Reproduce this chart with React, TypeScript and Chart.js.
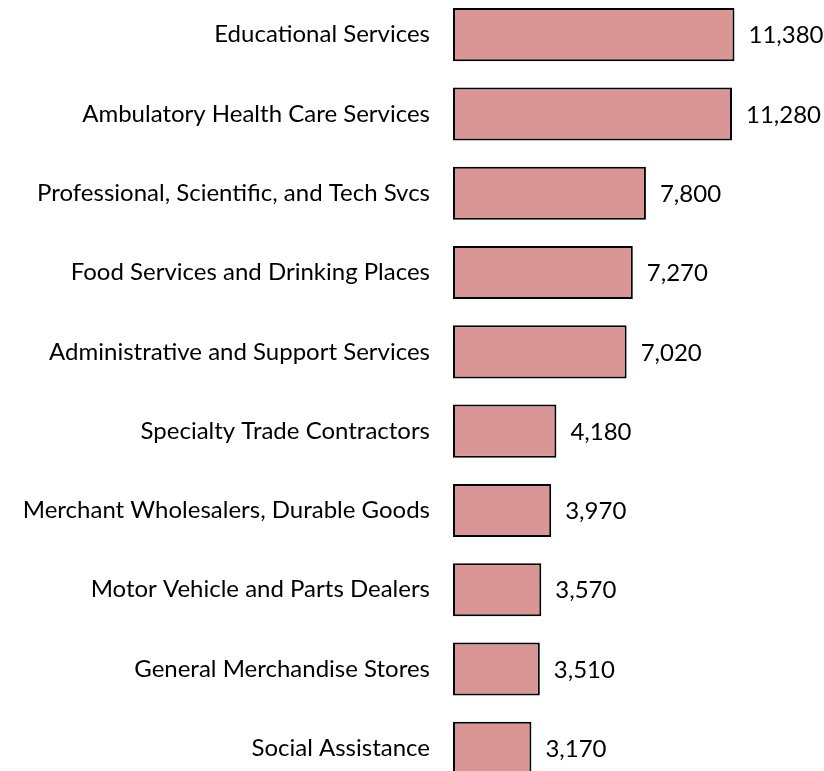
import React, { useEffect, useRef } from "react";
import { Chart, registerables } from "chart.js";

Chart.register(...registerables);

const categories: string[] = [
  "Educational Services",
  "Ambulatory Health Care Services",
  "Professional, Scientific, and Tech Svcs",
  "Food Services and Drinking Places",
  "Administrative and Support Services",
  "Specialty Trade Contractors",
  "Merchant Wholesalers, Durable Goods",
  "Motor Vehicle and Parts Dealers",
  "General Merchandise Stores",
  "Social Assistance",
];

const values: number[] = [11380, 11280, 7800, 7270, 7020, 4180, 3970, 3570, 3510, 3170];

const FONT_FAMILY = "Lato, 'Open Sans', sans-serif";
const FONT_SIZE = 24;

const valueLabels = {
  id: "valueLabels",
  afterDatasetsDraw(chart: any) {
    const ctx = chart.ctx;
    const meta = chart.getDatasetMeta(0);
    ctx.save();
    ctx.font = `${FONT_SIZE}px ${FONT_FAMILY}`;
    ctx.fillStyle = "#000000";
    ctx.textAlign = "left";
    ctx.textBaseline = "middle";
    meta.data.forEach((bar: any, i: number) => {
      const v = chart.data.datasets[0].data[i] as number;
      ctx.fillText(v.toLocaleString("en-US"), bar.x + 14, bar.y + 1);
    });
    ctx.restore();
  },
};

export default function App() {
  const ref = useRef<HTMLCanvasElement | null>(null);

  useEffect(() => {
    document.body.style.margin = "0";
    document.body.style.overflow = "hidden";
    const canvas = ref.current;
    if (!canvas) return;
    const chart = new Chart(canvas, {
      type: "bar",
      data: {
        labels: categories,
        datasets: [
          {
            data: values,
            backgroundColor: "#D99694",
            borderColor: "#000000",
            borderWidth: 2,
            borderSkipped: false,
            barPercentage: 0.67,
            categoryPercentage: 1,
          },
        ],
      },
      options: {
        indexAxis: "y",
        responsive: false,
        animation: false,
        maintainAspectRatio: false,
        layout: { padding: 0 },
        plugins: {
          legend: { display: false },
          tooltip: { enabled: false },
        },
        scales: {
          x: {
            display: false,
            min: 0,
            max: 15000,
          },
          y: {
            afterFit(scale: any) {
              scale.width = 453;
              scale.paddingTop = 0;
              scale.paddingBottom = 0;
              scale.paddingLeft = 0;
              scale.paddingRight = 0;
            },
            grid: {
              display: true,
              drawOnChartArea: false,
              drawTicks: true,
              tickLength: 23,
              color: "rgba(0,0,0,0)",
            },
            border: { display: false },
            ticks: {
              padding: 0,
              color: "#000000",
              font: { family: FONT_FAMILY, size: FONT_SIZE },
            },
          },
        },
      },
      plugins: [valueLabels],
    });
    return () => chart.destroy();
  }, []);

  return (
    <div style={{ position: "absolute", left: 0, top: -5, width: 824, height: 793 }}>
      <canvas ref={ref} width={824} height={793} style={{ display: "block" }} />
    </div>
  );
}
